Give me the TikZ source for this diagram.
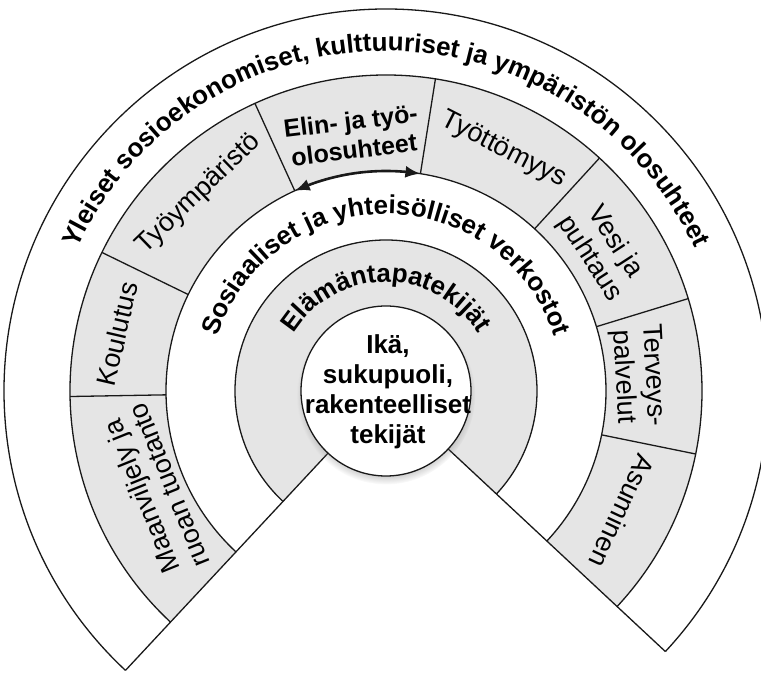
\documentclass[tikz,border=0pt]{standalone}
\usepackage{fontspec}
\setmainfont{Liberation Sans}
\usetikzlibrary{arrows.meta,decorations.text,bending,shadows}
\tikzset{
  band/.style={fill=black!10},
  rim/.style={draw=black!90,line width=1.3bp},
  lbl/.style={font=\fontsize{27bp}{30bp}\selectfont,align=center,inner sep=0pt},
  lbb/.style={font=\bfseries\fontsize{26bp}{30bp}\selectfont,align=center,inner sep=0pt},
  arw/.style={{Latex[length=15bp,width=12bp]}-{Latex[length=15bp,width=12bp]},line width=2.6bp,draw=black!90},
  core/.style={circle,draw=black!90,fill=white,line width=1.3bp,minimum size=170bp,inner sep=0pt,
    circular drop shadow={shadow xshift=0bp,shadow yshift=-4bp,shadow scale=1.05,opacity=.55}},
  % the ring titles follow the arcs; the boxes in the grey ring are only turned
  ringtxt/.style={decorate,decoration={text along path,text align=center,
    text={|\bfseries\fontsize{26bp}{30bp}\selectfont|#1}}},
}

\begin{document}
\begin{tikzpicture}[x=1bp,y=1bp]
\useasboundingbox[fill=white] (-386,-282) rectangle (375,391);
\fill[band] (-43:151) arc[start angle=-43,end angle=227,radius=151] -- (227:85)
  arc[start angle=227,end angle=-43,radius=85] -- cycle;
\fill[band] (-43:316) arc[start angle=-43,end angle=227,radius=316] -- (227:220)
  arc[start angle=227,end angle=-43,radius=220] -- cycle;
\draw[rim] (-43:382) arc[start angle=-43,end angle=227,radius=382];
\draw[rim] (-43:316) arc[start angle=-43,end angle=227,radius=316];
\draw[rim] (-43:220) arc[start angle=-43,end angle=227,radius=220];
\draw[rim] (-43:151) arc[start angle=-43,end angle=227,radius=151];
\draw[rim] (227:85) -- (227:382) (-43:85) -- (-43:382);
\draw[rim] (181:220) -- (181:316) (154:220) -- (154:316) (114.5:220) -- (114.5:316)
  (81:220) -- (81:316) (47.5:220) -- (47.5:316) (17:220) -- (17:316)
  (-11.5:220) -- (-11.5:316);
\draw[arw] (114.5:220) arc[start angle=114.5,end angle=81,radius=220];
\node[core] (hub) at (0,0) {};
\node[lbb] (hubtxt) at (2,-1) {Ikä,\\sukupuoli,\\rakenteelliset\\tekijät};

\path[ringtxt={Yleiset sosioekonomiset, kulttuuriset ja ympäristön olosuhteet}]
  (170:340) arc[start angle=170,end angle=10,radius=340];
\path[ringtxt={Sosiaaliset ja yhteisölliset verkostot}]
  (175:177) arc[start angle=175,end angle=5,radius=177];
\path[ringtxt={Elämäntapatekijät}]
  (180:109) arc[start angle=180,end angle=0,radius=109];

\node[lbl,rotate=112] (maanv) at (203.4:252) {Maanviljely ja\\ruoan tuotanto};
\node[lbl,rotate=77] (koulu) at (168:275) {Koulutus};
\node[lbl,rotate=44] (tyoymp) at (133.5:272) {Työympäristö};
\node[lbb,rotate=7,font=\bfseries\fontsize{25bp}{29bp}\selectfont] (elin) at (97.5:258)
  {Elin- ja työ-\\olosuhteet};
\node[lbl,rotate=-27] (tyott) at (64:268) {Työttömyys};
\node[lbl,rotate=-57] (vesi) at (33:258) {Vesi ja\\puhtaus};
\node[lbl,rotate=-87] (terv) at (3.4:252) {Terveys-\\palvelut};
\node[lbl,rotate=-115] (asum) at (-27:265) {Asuminen};
\end{tikzpicture}
\end{document}
